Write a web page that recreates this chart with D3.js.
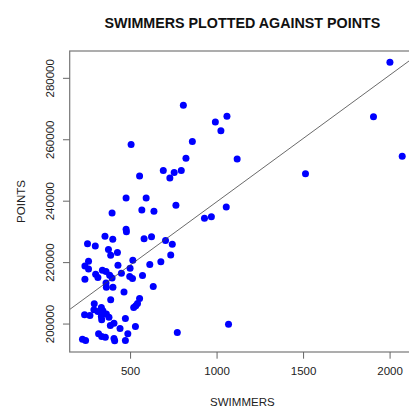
<!DOCTYPE html>
<html>
<head>
<meta charset="utf-8">
<script src="https://cdn.jsdelivr.net/npm/d3@7"></script>
<style>
  body { margin: 0; background: #fff; }
  svg text { font-family: "Liberation Sans", Arial, sans-serif; fill: #222; }
</style>
</head>
<body>
<svg id="chart" width="409" height="407"></svg>
<script>
// swimmers per school vs points
const swimmers = [
  808, 506, 993, 1060, 1025, 860, 823, 1119, 555, 692, 730, 755, 796, 477, 593,
  2002, 1907, 2073, 1514, 1056, 1069,
  765, 396, 568, 638, 930, 970, 477, 479, 355, 400, 581, 624, 254, 299, 705, 744,
  375, 427, 388, 735, 516, 678, 260, 239, 260, 430, 614, 500, 340, 361, 301, 382,
  450, 314, 396, 498, 514, 572, 239, 361, 363, 401, 634, 465, 388, 555, 543, 533,
  521, 293, 334, 291, 314, 343, 363, 237, 268, 334, 378, 336, 473, 407, 386, 531,
  442, 773, 318, 487, 336, 357, 407, 411, 473, 225, 243
];
const points = [
  271100, 258300, 265600, 267500, 262800, 259300, 253800, 253600, 248000, 249800, 247400, 249200, 249800, 240900, 240900,
  285100, 267300, 254500, 248800, 237950, 199740,
  238500, 236000, 237000, 236550, 234300, 234800, 230700, 229900, 228400, 227450, 227640, 228300, 226000, 225270, 227000, 225800,
  224070, 223100, 222250, 222340, 220600, 220160, 220290, 218760, 217790, 218990, 219190, 218020, 217370, 216910, 216070, 215740,
  216390, 214960, 214860, 215280, 214630, 215610, 214440, 213240, 211840, 211840, 212030, 210310, 207710, 208130, 206500, 205760,
  205200, 206410, 205200, 204460, 203900, 204130, 203150, 202830, 202600, 202280, 202080, 201200, 201630, 200130, 199350, 199020,
  198370, 197070, 196650, 196650, 195770, 195580, 195120, 194370, 194470, 194930, 194470
];
const xTicks = [500, 1000, 1500, 2000];
const yTicks = [200000, 220000, 240000, 260000, 280000];
const chartTitle = "SWIMMERS PLOTTED AGAINST POINTS";
const xTitle = "SWIMMERS";
const yTitle = "POINTS";

const data = swimmers.map((s, i) => ({ x: s, y: points[i] }));

// plot region (R default margins, right side runs off the canvas)
const plotLeft = 69.7, plotRight = 415, plotTop = 51, plotBottom = 352;

function padded(ext) {
  const r = ext[1] - ext[0];
  return [ext[0] - 0.04 * r, ext[1] + 0.04 * r];
}

const x = d3.scaleLinear().domain(padded(d3.extent(swimmers))).range([plotLeft, plotRight]);
const y = d3.scaleLinear().domain(padded(d3.extent(points))).range([plotBottom, plotTop]);

const svg = d3.select("#chart");

svg.append("defs").append("clipPath").attr("id", "plotclip")
  .append("rect")
  .attr("x", plotLeft).attr("y", plotTop)
  .attr("width", plotRight - plotLeft).attr("height", plotBottom - plotTop);

// least squares line
const mx = d3.mean(swimmers), my = d3.mean(points);
let sxy = 0, sxx = 0;
data.forEach(d => { sxy += (d.x - mx) * (d.y - my); sxx += (d.x - mx) * (d.x - mx); });
const slope = sxy / sxx;
const intercept = my - slope * mx;

const plot = svg.append("g").attr("clip-path", "url(#plotclip)");

plot.selectAll("circle")
  .data(data)
  .enter()
  .append("circle")
  .attr("cx", d => x(d.x))
  .attr("cy", d => y(d.y))
  .attr("r", 3.5)
  .attr("fill", "#0000ff");

const xd = x.domain();
plot.append("line")
  .attr("x1", x(xd[0])).attr("y1", y(intercept + slope * xd[0]))
  .attr("x2", x(xd[1])).attr("y2", y(intercept + slope * xd[1]))
  .attr("stroke", "#444")
  .attr("stroke-width", 0.8);

// box
svg.append("rect")
  .attr("x", plotLeft).attr("y", plotTop)
  .attr("width", plotRight - plotLeft).attr("height", plotBottom - plotTop)
  .attr("fill", "none")
  .attr("stroke", "#777")
  .attr("stroke-width", 1.2);

// x axis
const xAxis = svg.append("g").attr("transform", "translate(0," + plotBottom + ")")
  .call(d3.axisBottom(x).tickValues(xTicks).tickSize(6.7).tickPadding(8).tickFormat(d3.format("d")));
xAxis.select(".domain").remove();
xAxis.selectAll(".tick line").attr("stroke", "#666");
xAxis.selectAll(".tick text")
  .attr("font-size", "11.5px")
  .attr("font-family", "Liberation Sans, Arial, sans-serif")
  .attr("fill", "#222");

// y axis (labels rotated like base R)
const yAxis = svg.append("g").attr("transform", "translate(" + plotLeft + ",0)")
  .call(d3.axisLeft(y).tickValues(yTicks).tickSize(6.7).tickFormat(d3.format("d")));
yAxis.select(".domain").remove();
yAxis.selectAll(".tick line").attr("stroke", "#666");
yAxis.selectAll(".tick text")
  .attr("x", null).attr("dy", null)
  .attr("transform", "translate(-16,0) rotate(-90)")
  .attr("text-anchor", "middle")
  .attr("font-size", "11.5px")
  .attr("font-family", "Liberation Sans, Arial, sans-serif")
  .attr("fill", "#222");

// titles
svg.append("text")
  .attr("x", (plotLeft + plotRight) / 2).attr("y", 28)
  .attr("text-anchor", "middle")
  .attr("font-size", "14.3px")
  .attr("font-weight", "bold")
  .style("fill", "#111")
  .text(chartTitle);

svg.append("text")
  .attr("x", (plotLeft + plotRight) / 2).attr("y", 406)
  .attr("text-anchor", "middle")
  .attr("font-size", "11.5px")
  .text(xTitle);

svg.append("text")
  .attr("transform", "translate(24.5," + ((plotTop + plotBottom) / 2) + ") rotate(-90)")
  .attr("text-anchor", "middle")
  .attr("font-size", "11.5px")
  .text(yTitle);
</script>
</body>
</html>
